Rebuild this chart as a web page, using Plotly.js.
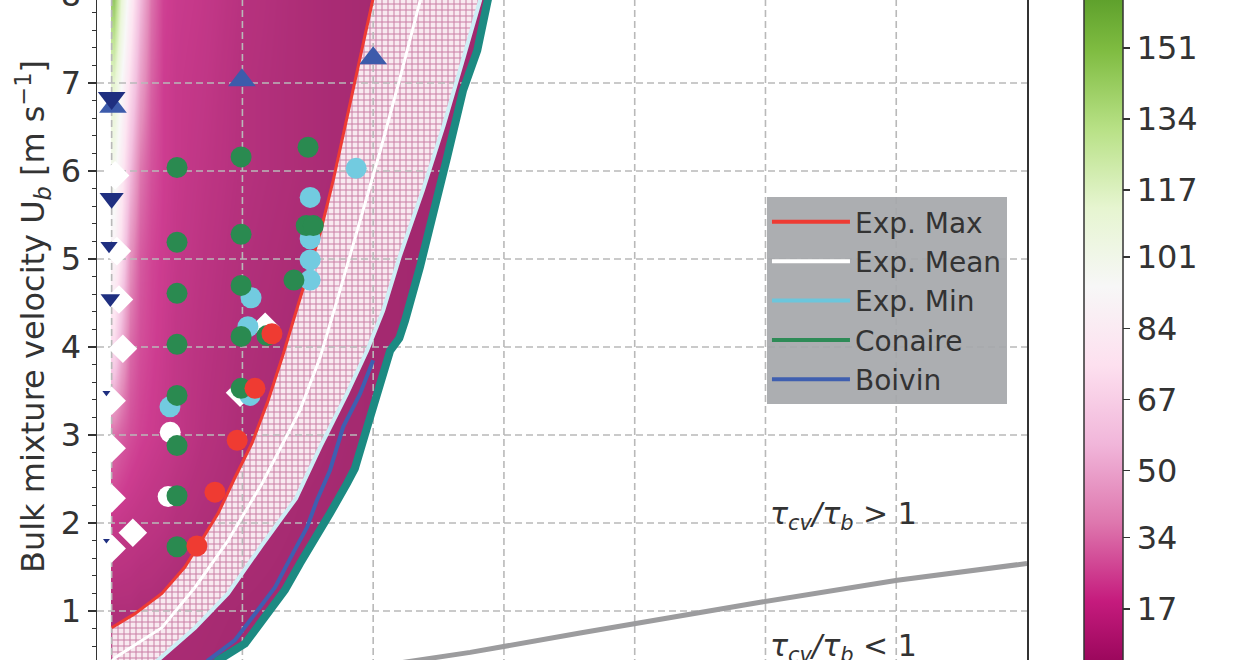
<!DOCTYPE html>
<html><head><meta charset="utf-8">
<script src="https://cdn.plot.ly/plotly-3.0.1.min.js"></script>
<style>
html,body{margin:0;padding:0;overflow:hidden;background:#fff;width:1240px;height:660px}
#chart{position:absolute;left:0;top:-6px;width:1240px;height:770px}
</style>
</head><body><div id="chart"></div>
<script>
// ---------------- data ----------------
const X_TICKS = [0, 5, 10, 15, 20, 25, 30, 35];
const Y_TICKS = [1, 2, 3, 4, 5, 6, 7, 8];
const CB_TICKS = [17, 34, 50, 67, 84, 101, 117, 134, 151];

// colour field (heatmap)
const HM_X = [0.1, 0.35, 0.7, 1.1, 1.5, 1.95, 2.45, 3.4, 5.0, 7.2, 10.5, 14.5];
const HM_Y = [0, 1, 2, 3, 4, 5, 6, 7, 8];
const HM_Z = [
  [6, 6, 6, 4, 4, 4, 3, 3, 2, 1, 1, 1],
  [7, 7, 7, 6, 6, 5, 5, 4, 3, 2, 1, 1],
  [16, 15, 14, 13, 12, 11, 9, 7, 5, 3, 2, 1],
  [31, 27, 23, 20, 18, 16, 14, 10, 6, 4, 2, 1],
  [70, 50, 30, 23, 20, 17, 14, 11, 7, 4, 2, 1],
  [88, 70, 40, 26, 21, 18, 15, 12, 8, 5, 2, 1],
  [100, 82, 55, 33, 24, 19, 16, 13, 9, 6, 2, 1],
  [115, 95, 70, 45, 28, 19, 16, 14, 9, 6, 2, 1],
  [150, 115, 85, 55, 32, 20, 17, 15, 10, 6, 2, 1]
];

// curves
const MAX_X = [0, 0.89, 1.92, 2.80, 3.45, 4.07, 4.72, 5.37, 5.98, 6.55, 7.09, 7.97, 8.47, 9.23, 10.0, 10.1];
const MAX_Y = [0.81, 0.97, 1.20, 1.50, 1.81, 2.11, 2.52, 2.91, 3.39, 3.91, 4.44, 5.29, 5.89, 6.92, 7.94, 8.1];
const MEAN_X = [0, 0.13, 1.92, 3.19, 4.45, 5.75, 7.2, 7.97, 8.62, 9.5, 10.27, 11.03, 11.8, 11.9];
const MEAN_Y = [0.42, 0.47, 0.81, 1.27, 1.80, 2.45, 3.28, 3.88, 4.53, 5.44, 6.23, 7.06, 7.94, 8.1];
const MIN_X = [0.3, 1.0, 1.77, 3.19, 4.45, 5.75, 7.05, 7.97, 9.0, 9.77, 10.38, 11.03, 11.9, 12.7, 13.4, 14.09, 14.2];
const MIN_Y = [0.05, 0.25, 0.44, 0.81, 1.20, 1.75, 2.28, 2.86, 3.47, 3.96, 4.41, 5.04, 5.78, 6.52, 7.23, 7.94, 8.1];
const CONAIRE_X = [2.9, 3.5, 4.07, 5.10, 5.98, 6.63, 7.20, 7.85, 8.35, 9.0, 9.3, 9.77, 10.15, 10.65, 11.0, 11.22, 11.79, 12.29, 12.83, 13.44, 13.98, 14.36, 14.5];
const CONAIRE_Y = [0.0, 0.22, 0.44, 0.63, 0.97, 1.24, 1.54, 1.84, 2.11, 2.45, 2.62, 3.09, 3.47, 3.96, 4.1, 4.30, 4.91, 5.55, 6.16, 6.92, 7.37, 7.91, 8.1];
const BOIVIN_X = [3.0, 3.69, 4.72, 5.48, 6.25, 6.94, 7.47, 7.85, 8.35, 8.85, 9.50, 10.0];
const BOIVIN_Y = [0.2, 0.44, 0.67, 0.97, 1.27, 1.66, 1.95, 2.26, 2.60, 3.09, 3.47, 3.85];
const TAU_X = [9.0, 11.53, 13.71, 17.91, 22.12, 24.8, 30.04, 35];
const TAU_Y = [0.32, 0.44, 0.53, 0.75, 0.97, 1.10, 1.35, 1.54];

// measurement points
const PT_CONAIRE_X = [2.5, 4.95, 7.51, 2.5, 4.95, 7.44, 7.71, 2.5, 4.95, 6.97, 2.5, 4.95, 5.94, 2.5, 4.95, 2.5, 2.5, 2.5];
const PT_CONAIRE_Y = [6.04, 6.16, 6.27, 5.19, 5.28, 5.38, 5.38, 4.61, 4.70, 4.76, 4.03, 4.12, 4.13, 3.45, 3.53, 2.88, 2.31, 1.73];
const PT_MIN_X = [9.35, 7.59, 7.59, 7.59, 7.59, 5.33, 5.21, 2.23, 5.29];
const PT_MIN_Y = [6.03, 5.70, 5.23, 4.99, 4.76, 4.56, 4.23, 3.32, 3.45];
const PT_MEAN_X = [2.24, 2.16];
const PT_MEAN_Y = [3.03, 2.30];
const PT_MAX_X = [6.13, 5.48, 4.80, 3.95, 3.26];
const PT_MAX_Y = [4.15, 3.53, 2.94, 2.35, 1.74];
const PT_DIAM_X = [0.13, 0.2, 0.28, 0.43, 0, 0, 0, 0.81, 0, 5.87, 4.91];
const PT_DIAM_Y = [5.95, 5.09, 4.54, 3.98, 3.39, 2.85, 2.28, 1.89, 1.71, 4.23, 3.48];
const PT_UP_X = [0.05, 4.98, 10.0];
const PT_UP_Y = [6.73, 7.03, 7.28];
const PT_DOWN_X = [0, 0, -0.1, -0.05, -0.2, -0.2];
const PT_DOWN_Y = [6.83, 5.69, 5.15, 4.55, 3.48, 1.80];

// ---------------- styles ----------------
const DOWN_SIZES = [24, 21, 15, 17, 7, 6];
const XR = [-0.56, 35];
const YR = [0, 8];
const FONT = 'DejaVu Sans, Verdana, sans-serif';
const TXT = '#333333';
const PIYG = [[0,'#8e0152'],[0.1,'#c51b7d'],[0.2,'#de77ae'],[0.3,'#f1b6da'],[0.4,'#fde0ef'],
  [0.5,'#f7f7f7'],[0.6,'#e6f5d0'],[0.7,'#b8e186'],[0.8,'#7fbc41'],[0.9,'#4d9221'],[1,'#276419']];

const traces = [];
traces.push({
  type: 'heatmap', x: HM_X, y: HM_Y, z: HM_Z, zmin: 0, zmax: 188, zsmooth: 'best',
  colorscale: PIYG, opacity: 0.85, hoverinfo: 'skip', showscale: true,
  colorbar: {
    x: 1.0613, xanchor: 'left', y: 0.027, yanchor: 'bottom',
    len: 787, lenmode: 'pixels', thickness: 39, thicknessmode: 'pixels',
    xpad: 0, ypad: 0, outlinewidth: 1.5, outlinecolor: TXT,
    tickvals: CB_TICKS, ticktext: CB_TICKS.map(String),
    ticks: 'outside', ticklen: 7, tickwidth: 1.5, tickcolor: TXT,
    tickfont: {size: 32, color: TXT, family: FONT}
  }
});
// white mask to the right of the outer boundary
traces.push({
  type: 'scatter', mode: 'lines', showlegend: false, hoverinfo: 'skip',
  x: CONAIRE_X.concat([XR[1] + 2, XR[1] + 2]),
  y: CONAIRE_Y.concat([YR[1] + 1, YR[0] - 1]),
  fill: 'toself', fillcolor: '#ffffff', line: {width: 0}
});
// hatched band between Exp. Max and Exp. Min
traces.push({
  type: 'scatter', mode: 'lines', showlegend: false, hoverinfo: 'skip',
  x: MAX_X.concat(MIN_X.slice().reverse(), [HM_X[0] - 0.1]),
  y: MAX_Y.concat(MIN_Y.slice().reverse(), [YR[0]]),
  fill: 'toself', fillcolor: '#f6e3ec', line: {width: 0},
  fillpattern: {shape: '+', size: 6, solidity: 0.3, fgcolor: '#a8336f', bgcolor: '#f8e9f0', fgopacity: 0.6}
});
// grid drawn above the colour field
const gx = [], gy = [];
X_TICKS.forEach(v => { if (v > XR[0] && v < XR[1]) { gx.push(v, v, null); gy.push(YR[0], YR[1], null); } });
Y_TICKS.forEach(v => { if (v > YR[0] && v < YR[1]) { gx.push(XR[0], XR[1], null); gy.push(v, v, null); } });
traces.push({type: 'scatter', mode: 'lines', x: gx, y: gy, showlegend: false, hoverinfo: 'skip',
  line: {color: '#b9b9b9', width: 1.6, dash: '7px,4px'}});

traces.push({type: 'scatter', mode: 'lines', x: TAU_X, y: TAU_Y, showlegend: false,
  line: {color: '#9c9c9e', width: 5}});
traces.push({type: 'scatter', mode: 'lines', x: CONAIRE_X, y: CONAIRE_Y, showlegend: false,
  line: {color: '#1c8a82', width: 8}});
traces.push({type: 'scatter', mode: 'lines', x: BOIVIN_X, y: BOIVIN_Y, showlegend: false,
  line: {color: '#3f5fb0', width: 4}});
traces.push({type: 'scatter', mode: 'lines', x: MIN_X, y: MIN_Y, showlegend: false,
  line: {color: '#cdeef5', width: 4}});
traces.push({type: 'scatter', mode: 'lines', x: MEAN_X, y: MEAN_Y, showlegend: false,
  line: {color: '#ffffff', width: 3}});
traces.push({type: 'scatter', mode: 'lines', x: MAX_X, y: MAX_Y, showlegend: false,
  line: {color: '#ee3b33', width: 3}});

function pts(x, y, color, symbol, size) {
  return {type: 'scatter', mode: 'markers', x: x, y: y, showlegend: false, cliponaxis: true,
    marker: {color: color, symbol: symbol, size: size, opacity: 1, line: {width: 0}}};
}
traces.push(pts(PT_DIAM_X, PT_DIAM_Y, '#ffffff', 'diamond', 22));
traces.push(pts(PT_MEAN_X, PT_MEAN_Y, '#ffffff', 'circle', 21));
traces.push(pts(PT_MIN_X, PT_MIN_Y, '#72cbe0', 'circle', 21));
traces.push(pts(PT_CONAIRE_X, PT_CONAIRE_Y, '#2a8a50', 'circle', 21));
traces.push(pts(PT_MAX_X, PT_MAX_Y, '#ef3b32', 'circle', 21));
traces.push(pts(PT_UP_X, PT_UP_Y, '#3d5bab', 'triangle-up', 24));
traces.push(pts(PT_DOWN_X, PT_DOWN_Y, '#1f2f80', 'triangle-down', DOWN_SIZES));

// legend entries
const LEG = [['Exp. Max', '#ee3b33'], ['Exp. Mean', '#ffffff'], ['Exp. Min', '#6cc6dc'], ['Conaire', '#2e8b57'], ['Boivin', '#3f5fb0']];
LEG.forEach((l, i) => traces.push({type: 'scatter', mode: 'lines', x: [null], y: [null], name: l[0],
  legendrank: i + 1, showlegend: true, line: {color: l[1], width: 4}}));

const layout = {
  width: 1240, height: 770,
  margin: {l: 97, r: 213, t: 1, b: 65, autoexpand: false},
  paper_bgcolor: '#ffffff', plot_bgcolor: '#ffffff',
  font: {family: FONT, color: TXT, size: 28},
  showlegend: true,
  xaxis: {range: XR, tickvals: X_TICKS, showticklabels: false, ticks: '', showgrid: false, zeroline: false,
    showline: true, mirror: true, linecolor: TXT, linewidth: 1.5, automargin: false},
  yaxis: {range: YR, tickvals: Y_TICKS, ticks: 'outside', ticklen: 8, tickwidth: 1.5, tickcolor: TXT,
    showgrid: false, zeroline: false, showline: true, mirror: true, linecolor: TXT, linewidth: 1.5,
    tickfont: {size: 32, color: TXT}, automargin: false, ticklabeloverflow: 'allow',
    minor: {dtick: 0.2, ticks: 'outside', ticklen: 4, tickwidth: 1, tickcolor: TXT, showgrid: false}},
  legend: {x: 0.7204, xanchor: 'left', y: 0.713, yanchor: 'top', bgcolor: 'rgba(165,167,170,0.92)',
    borderwidth: 0, font: {size: 28, color: TXT}, itemwidth: 78, traceorder: 'normal'},
  annotations: [
    {xref: 'paper', yref: 'paper', x: -0.0688, y: 0.5426, xanchor: 'center', yanchor: 'middle',
     textangle: -90, showarrow: false, font: {size: 32, color: TXT},
     text: 'Bulk mixture velocity U<sub><i>b</i></sub> [m s<sup>−1</sup>]'},
    {xref: 'x', yref: 'y', x: 25.1, y: 2.09, xanchor: 'left', yanchor: 'middle', showarrow: false,
     font: {size: 30, color: TXT}, text: '<i>τ<sub>cv</sub>/τ<sub>b</sub></i> &gt; 1'},
    {xref: 'x', yref: 'y', x: 25.1, y: 0.58, xanchor: 'left', yanchor: 'middle', showarrow: false,
     font: {size: 30, color: TXT}, text: '<i>τ<sub>cv</sub>/τ<sub>b</sub></i> &lt; 1'}
  ]
};
Plotly.newPlot('chart', traces, layout, {staticPlot: true, displayModeBar: false});
</script>
</body></html>
